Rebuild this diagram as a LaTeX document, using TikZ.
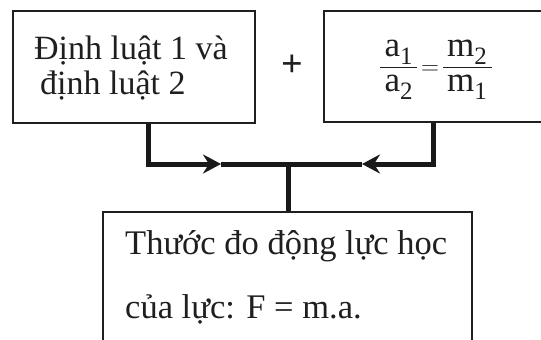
\documentclass[tikz,border=0pt]{standalone}
\usepackage{amsmath}
\usepackage{fontspec}
\setmainfont{Liberation Serif}
\usetikzlibrary{arrows.meta}
\newcommand\sbx[1]{\text{\fontsize{25}{25}\selectfont #1}}
\begin{document}
\begin{tikzpicture}[x=1pt,y=-1pt,
  box/.style={draw=black!88, line width=2.2pt, rectangle, inner sep=0pt, anchor=north west},
  txt/.style={inner sep=0pt, anchor=base west, text=black!88, font=\fontsize{34}{40}\selectfont},
  conn/.style={draw=black!90, line width=5pt},
  tip/.style={-{Stealth[length=18pt,width=19pt,inset=6pt]}}]
\useasboundingbox (0,0) rectangle (541,340);
\clip (0,0) rectangle (541,340);
% boxes
\node[box, minimum width=242pt, minimum height=112pt] (L) at (12,10) {};
\node[box, minimum width=240pt, minimum height=111pt] (R) at (323,10) {};
\node[box, minimum width=369pt, minimum height=150pt] (B) at (102,211) {};
% texts
\node[txt] (L1) at (34,59) {Định luật 1 và};
\node[txt] (L2) at (40,94) {định luật 2};
\node[inner sep=0pt, anchor=base, text=black!88, font=\fontsize{35}{38}\selectfont] (F) at (436,74)
  {$\dfrac{\,\text{a}_{\sbx{1}}\,}{\text{a}_{\sbx{2}}}\!=\!\dfrac{\,\text{m}_{\sbx{2}}\,}{\text{m}_{\sbx{1}}}$};
\node[inner sep=0pt, text=black!88, font=\fontsize{38}{40}\selectfont\bfseries] (P) at (292,66) {+};
\node[txt, font=\fontsize{34.5}{40}\selectfont] (B1) at (125,254) {Thước đo động lực học};
\node[txt, font=\fontsize{34.5}{40}\selectfont] (B2) at (125,318) {của lực: F = m.a.};
% connectors
\coordinate (lx) at (148,0);
\coordinate (rx) at (433,0);
\coordinate (J) at (288,164);
\coordinate (la) at (221,164);
\coordinate (ra) at (362,164);
\draw[conn, tip] (L.south -| lx) |- (la);
\draw[conn] (la) -- (J);
\draw[conn, tip] (R.south -| rx) |- (ra);
\draw[conn] (ra) -- (J);
\draw[conn] (J) -- (B.north -| J);
\end{tikzpicture}
\end{document}
